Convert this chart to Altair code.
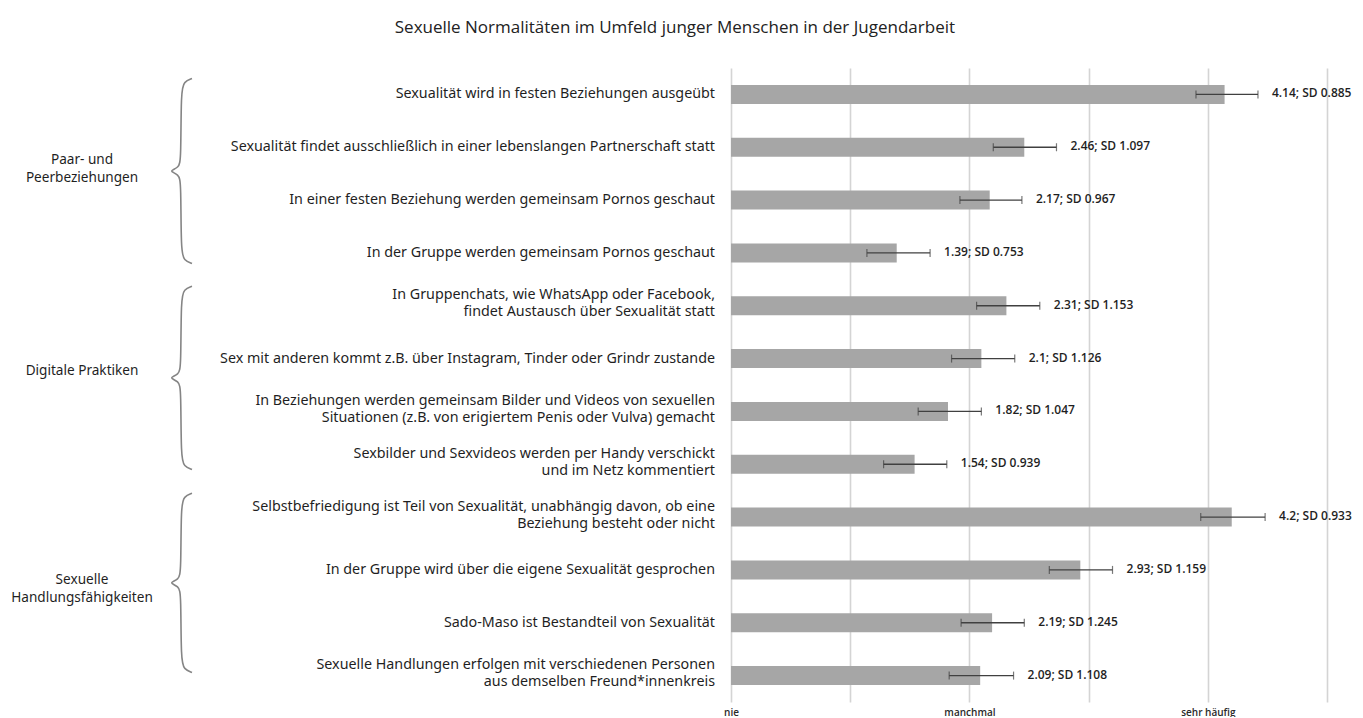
import altair as alt
import pandas as pd

# ---- data ----
items = [
    "Sexualität wird in festen Beziehungen ausgeübt",
    "Sexualität findet ausschließlich in einer lebenslangen Partnerschaft statt",
    "In einer festen Beziehung werden gemeinsam Pornos geschaut",
    "In der Gruppe werden gemeinsam Pornos geschaut",
    "In Gruppenchats, wie WhatsApp oder Facebook,\nfindet Austausch über Sexualität statt",
    "Sex mit anderen kommt z.B. über Instagram, Tinder oder Grindr zustande",
    "In Beziehungen werden gemeinsam Bilder und Videos von sexuellen\nSituationen (z.B. von erigiertem Penis oder Vulva) gemacht",
    "Sexbilder und Sexvideos werden per Handy verschickt\nund im Netz kommentiert",
    "Selbstbefriedigung ist Teil von Sexualität, unabhängig davon, ob eine\nBeziehung besteht oder nicht",
    "In der Gruppe wird über die eigene Sexualität gesprochen",
    "Sado-Maso ist Bestandteil von Sexualität",
    "Sexuelle Handlungen erfolgen mit verschiedenen Personen\naus demselben Freund*innenkreis",
]
means = [4.14, 2.46, 2.17, 1.39, 2.31, 2.1, 1.82, 1.54, 4.2, 2.93, 2.19, 2.09]
sds = [0.885, 1.097, 0.967, 0.753, 1.153, 1.126, 1.047, 0.939, 0.933, 1.159, 1.245, 1.108]
err_low = [3.90, 2.20, 1.92, 1.14, 2.06, 1.85, 1.57, 1.28, 3.94, 2.67, 1.93, 1.83]
err_high = [4.42, 2.73, 2.44, 1.67, 2.59, 2.38, 2.10, 1.81, 4.48, 3.20, 2.46, 2.37]

groups = ["Paar- und\nPeerbeziehungen", "Digitale Praktiken", "Sexuelle\nHandlungsfähigkeiten"]
# extent of each group's brace and row of its label's first line, in item-row units
brace_top = [-0.3, 3.63, 7.55]
brace_bottom = [3.2, 7.1, 10.94]
group_label_row = [1.25, 5.23, 9.2]

tick_values = [0, 2, 4]
tick_labels = ["nie", "manchmal", "sehr häufig"]
grid_values = [0, 1, 2, 3, 4, 5]

title = "Sexuelle Normalitäten im Umfeld junger Menschen in der Jugendarbeit"

# ---- tables ----
df = pd.DataFrame({
    "idx": list(range(len(items))),
    "item": items,
    "lines": [it.count("\n") + 1 for it in items],
    "mean": means,
    "lo": err_low,
    "hi": err_high,
    "label": [f"{m}; SD {s}" for m, s in zip(means, sds)],
})

gdf = pd.DataFrame({"group": groups, "row": group_label_row})

# brace outline (style shape, x in gutter pixels, y relative to group extent)
brace_shape = [
    (184, "top", 0.0), (176, "top", 0.06), (173, "top", 0.22),
    (173, "mid", -0.22), (171, "mid", -0.06), (160, "mid", 0.0),
    (171, "mid", 0.06), (173, "mid", 0.22),
    (173, "bot", -0.22), (176, "bot", -0.06), (184, "bot", 0.0),
]
rows = []
for g, top, bot in zip(groups, brace_top, brace_bottom):
    ref = {"top": top, "bot": bot, "mid": (top + bot) / 2}
    for k, (bx, anchor, dy) in enumerate(brace_shape):
        rows.append({"group": g, "k": k, "bx": bx, "by": ref[anchor] + dy})
bdf = pd.DataFrame(rows)

N = len(items)
H = 634
LEFT_W = 715
XMAX = 5.15
RIGHT_W = 614

yscale = alt.Scale(domain=[-0.5, N - 0.5], reverse=True, nice=False, zero=False, padding=0)
FONT = "Noto Sans"
TXT = "#1f1f1f"

# ---- left gutter: item labels, braces, group labels ----
gx = alt.Scale(domain=[0, LEFT_W], nice=False, zero=False, padding=0)

base_items = alt.Chart(df)
item_one = base_items.transform_filter("datum.lines == 1").mark_text(
    align="right", baseline="middle", font=FONT, fontSize=14.3, color=TXT,
).encode(
    x=alt.value(LEFT_W - 8),
    y=alt.Y("idx:Q", scale=yscale, axis=None),
    text="item:N",
)
item_two = base_items.transform_filter("datum.lines == 2").mark_text(
    align="right", baseline="middle", font=FONT, fontSize=14.3, color=TXT,
    lineBreak="\n", lineHeight=17, dy=-10.5,
).encode(
    x=alt.value(LEFT_W - 8),
    y=alt.Y("idx:Q", scale=yscale, axis=None),
    text="item:N",
)

braces = alt.Chart(bdf).mark_line(
    color="#858585", strokeWidth=1.6, interpolate="basis",
).encode(
    x=alt.X("bx:Q", scale=gx, axis=None),
    y=alt.Y("by:Q", scale=yscale, axis=None),
    detail="group:N",
    order="k:Q",
)

group_text = alt.Chart(gdf).mark_text(
    align="center", baseline="middle", font=FONT, fontSize=13.6, color=TXT,
    lineBreak="\n", lineHeight=18,
).encode(
    x=alt.value(74),
    y=alt.Y("row:Q", scale=yscale, axis=None),
    text="group:N",
)

left = alt.layer(braces, item_one, item_two, group_text).properties(width=LEFT_W, height=H)

# ---- right: bars with error bars ----
label_expr = " : ".join(
    [f"datum.value == {v} ? '{t}'" for v, t in zip(tick_values, tick_labels)] + ["''"]
)
xscale = alt.Scale(domain=[0, XMAX], nice=False, zero=True, padding=0)
xaxis = alt.Axis(
    values=grid_values, grid=True, gridColor="#d4d4d4", gridWidth=1.6,
    domain=False, ticks=False, labelExpr=label_expr, title=None,
    labelFont="Open Sans", labelFontSize=10, labelFontWeight=600,
    labelColor="#2a2a2a", labelPadding=5, labelFlush=False,
)

bars = alt.Chart(df).mark_bar(
    orient="horizontal", size=19, color="#a6a6a6",
).encode(
    x=alt.X("mean:Q", scale=xscale, axis=xaxis, stack=None),
    y=alt.Y("idx:Q", scale=yscale, axis=None),
)

err = alt.Chart(df).mark_rule(color="#404040", strokeWidth=1.4).encode(
    x=alt.X("lo:Q", scale=xscale),
    x2="hi:Q",
    y=alt.Y("idx:Q", scale=yscale, axis=None),
)
cap_lo = alt.Chart(df).mark_tick(
    orient="vertical", size=8, thickness=1.2, color="#404040",
).encode(x=alt.X("lo:Q", scale=xscale), y=alt.Y("idx:Q", scale=yscale, axis=None))
cap_hi = alt.Chart(df).mark_tick(
    orient="vertical", size=8, thickness=1.2, color="#404040",
).encode(x=alt.X("hi:Q", scale=xscale), y=alt.Y("idx:Q", scale=yscale, axis=None))

vals = alt.Chart(df).mark_text(
    align="left", baseline="middle", dx=14, dy=-1, font="Open Sans",
    fontSize=12, fontWeight=600, color="#1f1f1f",
).encode(
    x=alt.X("hi:Q", scale=xscale),
    y=alt.Y("idx:Q", scale=yscale, axis=None),
    text="label:N",
)

right = alt.layer(bars, err, cap_lo, cap_hi, vals).properties(width=RIGHT_W, height=H)

chart = alt.hconcat(left, right, spacing=0).properties(
    padding={"left": 0, "top": 11, "right": 0, "bottom": 0},
    title=alt.TitleParams(
        title, font="Open Sans", fontSize=17, fontWeight="normal",
        color="#222222", anchor="middle", dx=-5, offset=31,
    ),
).configure_view(stroke=None).configure_concat(spacing=0).configure_scale(
    continuousPadding=0
)

chart.save("out.html", embed_options={"renderer": "svg", "actions": False})
